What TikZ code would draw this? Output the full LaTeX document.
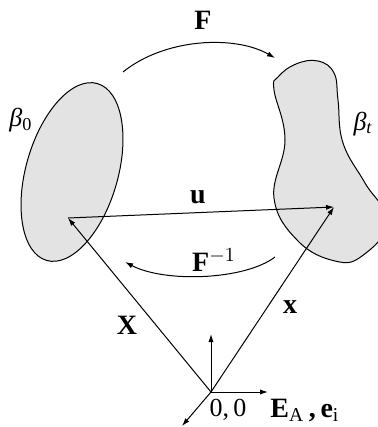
\documentclass[tikz,border=0pt]{standalone}
\usepackage{fontspec}
\setmainfont{Liberation Serif}
\usetikzlibrary{arrows.meta}
\tikzset{
  vec/.style={line width=0.5pt,-{Latex[length=4pt,width=2.6pt]}},
  body/.style={draw=black,line width=0.5pt,fill=black!11},
  lbl/.style={font=\fontsize{14}{16}\selectfont\bfseries,inner sep=0pt},
  glbl/.style={font=\fontsize{13}{15}\selectfont,inner sep=0pt}
}
\begin{document}
\begin{tikzpicture}[x=0.5pt,y=-0.5pt]
\useasboundingbox (0,0) rectangle (378,427);
\clip (0,0) rectangle (378,427);
% bodies
\draw[body] (72,172) ellipse[x radius=92,y radius=46,rotate=74];
\draw[body] plot[smooth cycle,tension=0.7] coordinates {
  (274,90) (285,140) (274,198) (298,241) (335,261) (362,256)
  (388,222) (365,183) (343,143) (338,100) (334,73) (318,61) (296,64) (278,77)};
% points
\coordinate (O) at (211,392);
\coordinate (P) at (68,218);
\coordinate (p) at (334,207);
\coordinate (e1) at (268,392);
\coordinate (e2) at (211,334);
\coordinate (e3) at (182,426);
\coordinate (fa) at (123,72);
\coordinate (fb) at (275,58);
\coordinate (ga) at (275,257);
\coordinate (gb) at (125,262);
% vectors
\draw[vec] (P) -- (p);
\draw[vec] (O) -- (P);
\draw[vec] (O) -- (p);
\draw[vec] (O) -- (e1);
\draw[vec] (O) -- (e2);
\draw[vec] (O) -- (e3);
\draw[vec] (fa) .. controls (165,38) and (235,35) .. (fb);
\draw[vec] (ga) .. controls (245,280) and (165,283) .. (gb);
% labels
\node[lbl] (F) at (203,20) {F};
\node[lbl] (Finv) at (214,260) {F$^{-1}$};
\node[lbl] (u) at (198,197) {u};
\node[lbl] (X) at (127,325) {X};
\node[lbl] (x) at (290,307) {x};
\node[glbl] (b0) at (21,120) {\itshape β\textsubscript{\upshape 0}};
\node[glbl] (bt) at (363,124) {\itshape β\textsubscript{t}};
\node[glbl] (zero) at (228,410) {0,\,0};
\node[lbl,anchor=west] (E) at (270,410) {E\textsubscript{\mdseries A}\,,\,e\textsubscript{\mdseries i}};
\end{tikzpicture}
\end{document}
